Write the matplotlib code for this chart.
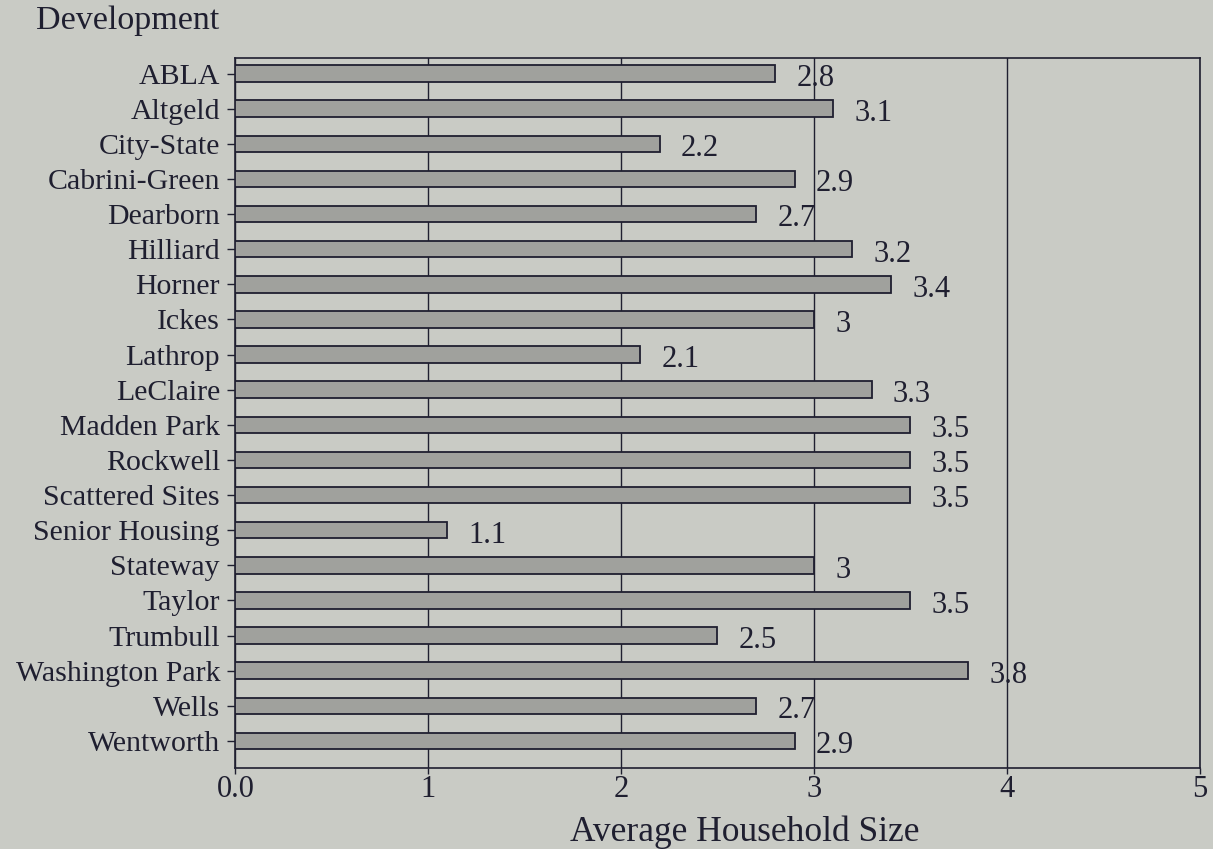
import matplotlib
matplotlib.use("Agg")
import matplotlib.pyplot as plt
import numpy as np

developments = ["ABLA", "Altgeld", "City-State", "Cabrini-Green", "Dearborn",
                "Hilliard", "Horner", "Ickes", "Lathrop", "LeClaire",
                "Madden Park", "Rockwell", "Scattered Sites", "Senior Housing",
                "Stateway", "Taylor", "Trumbull", "Washington Park", "Wells",
                "Wentworth"]
household_size = [2.8, 3.1, 2.2, 2.9, 2.7, 3.2, 3.4, 3, 2.1, 3.3,
                  3.5, 3.5, 3.5, 1.1, 3, 3.5, 2.5, 3.8, 2.7, 2.9]
value_labels = ["2.8", "3.1", "2.2", "2.9", "2.7", "3.2", "3.4", "3", "2.1", "3.3",
                "3.5", "3.5", "3.5", "1.1", "3", "3.5", "2.5", "3.8", "2.7", "2.9"]
x_ticks = [0, 1, 2, 3, 4, 5]
x_tick_labels = ["0.0", "1", "2", "3", "4", "5"]

paper = "#c9cbc5"
ink = "#1f1f30"

plt.rcParams["font.family"] = ["Liberation Serif", "DejaVu Serif"]

fig = plt.figure(figsize=(12.13, 8.49), dpi=100, facecolor=paper)
ax = fig.add_axes([0.194, 0.095, 0.795, 0.837], facecolor=paper)

y = np.arange(len(developments))
ax.barh(y, household_size, height=0.47, color="#a0a19d", edgecolor=ink,
        linewidth=1.3, zorder=3)

for yi, v, txt in zip(y, household_size, value_labels):
    ax.text(v + 0.11, yi + 0.14, txt, fontsize=22, color=ink,
            va="center", ha="left", zorder=4)

ax.set_xlim(0, 5)
ax.set_ylim(19.78, -0.45)
ax.set_yticks(y)
ax.set_yticklabels(developments, fontsize=21.5, color=ink)
ax.set_xticks(x_ticks)
ax.set_xticklabels(x_tick_labels, fontsize=22, color=ink)
ax.tick_params(axis="y", length=6, width=1, color=ink, pad=5)
ax.tick_params(axis="x", length=4, width=1, color=ink, pad=1)
ax.xaxis.grid(True, color=ink, linewidth=1, zorder=1)
for s in ax.spines.values():
    s.set_color(ink)
    s.set_linewidth(1.2)

ax.set_xlabel("Average Household Size", fontsize=25.5, color=ink)
ax.xaxis.set_label_coords(0.528, -0.066)
fig.text(0.030, 0.975, "Development", fontsize=24.5, color=ink, va="center", ha="left")

fig.savefig("out.png", dpi=100, facecolor=paper)
